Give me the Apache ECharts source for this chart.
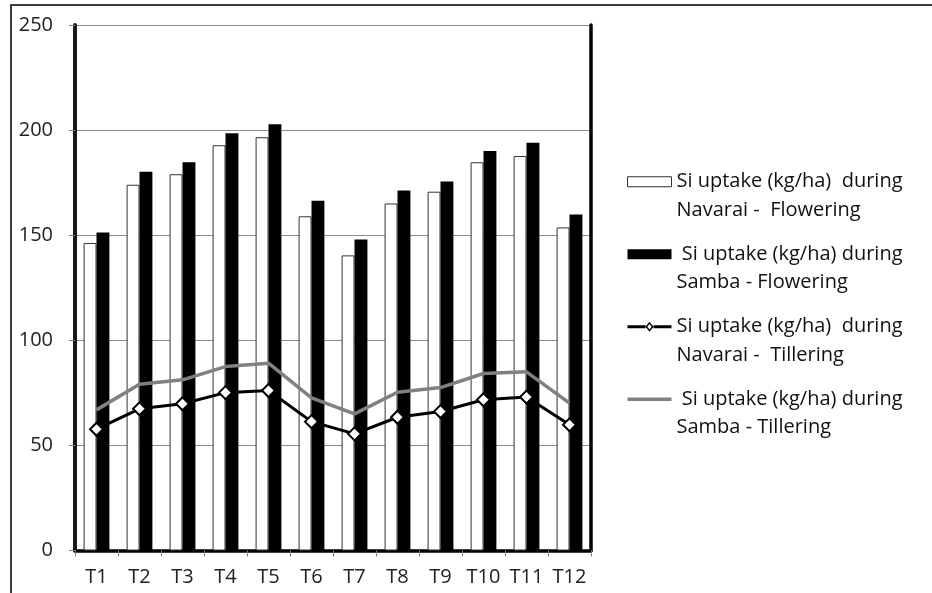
<!DOCTYPE html>
<html>
<head>
<meta charset="utf-8">
<script src="https://cdn.jsdelivr.net/npm/echarts@6/dist/echarts.min.js"></script>
<style>
html,body{margin:0;padding:0;background:#fff;}
#chart{width:932px;height:593px;}
</style>
</head>
<body>
<div id="chart"></div>
<script>
var categories = ['T1','T2','T3','T4','T5','T6','T7','T8','T9','T10','T11','T12'];
var navaraiFlowering = [146.3,174.0,179.0,192.8,196.6,159.0,140.4,165.1,170.7,184.7,187.7,153.7];
var sambaFlowering   = [151.3,180.2,184.7,198.5,202.8,166.4,148.0,171.3,175.6,190.1,194.0,159.8];
var navaraiTillering = [57.7,67.4,69.8,75.1,76.1,61.3,55.5,63.4,66.1,71.7,73.0,59.8];
var sambaTillering   = [66.9,79.1,81.2,87.5,89.1,72.6,65.0,75.3,77.5,84.2,85.0,70.1];
var seriesNames = [
  'Si uptake (kg/ha)  during\nNavarai -  Flowering',
  ' Si uptake (kg/ha) during\nSamba - Flowering',
  'Si uptake (kg/ha)  during\nNavarai -  Tillering',
  ' Si uptake (kg/ha) during\nSamba - Tillering'
];
var yTicks = {min:0, max:250, interval:50};

var FONT = '"Open Sans"';
var lineDiamondIcon = 'path://M0,3.5L18,3.5L18,6.5L0,6.5Z M26,3.5L44,3.5L44,6.5L26,6.5Z ' +
  'M22,0L26,5L22,10L18,5Z M22,2.3L19.9,5L22,7.7L24.1,5Z';
var lineOnlyIcon = 'path://M0,0L0.01,0L0.01,0.01Z M0,3.3L44,3.3L44,6.7L0,6.7Z M43.99,10L44,10L44,9.99Z';

var chart = echarts.init(document.getElementById('chart'), null, {renderer:'canvas'});
var option = {
  backgroundColor:'#fff',
  animation:false,
  textStyle:{fontFamily:FONT},
  graphic:[{
    type:'rect', silent:true, z:-10,
    shape:{x:11, y:5, width:1000, height:700},
    style:{fill:'none', stroke:'#000', lineWidth:1.5}
  }],
  grid:{left:75, right:341, top:25, bottom:42.5, containLabel:false},
  legend:{
    orient:'vertical', left:627, top:139, padding:0,
    itemWidth:44, itemHeight:10, itemGap:-13,
    formatter:function(name){ return ' \n' + name; },
    textStyle:{fontFamily:FONT, fontSize:20, color:'#111', lineHeight:28.5},
    data:[
      {name:seriesNames[0], icon:'rect', itemStyle:{color:'#fff', borderColor:'#333', borderWidth:1}},
      {name:seriesNames[1], icon:'rect', itemStyle:{color:'#000'}},
      {name:seriesNames[2], icon:lineDiamondIcon, itemStyle:{color:'#000', borderWidth:0}},
      {name:seriesNames[3], icon:lineOnlyIcon, itemStyle:{color:'#808080', borderWidth:0}}
    ]
  },
  xAxis:[{
    type:'category', data:categories, position:'bottom',
    axisLine:{show:true, lineStyle:{color:'#595959', width:2}},
    axisTick:{show:true, alignWithLabel:false, length:6, lineStyle:{color:'#7f7f7f', width:1}},
    axisLabel:{fontFamily:FONT, fontSize:20, color:'#222', margin:17, interval:0},
    splitLine:{show:false}
  },{
    type:'category', data:categories, position:'top',
    axisLine:{show:true, lineStyle:{color:'#000', width:3.5}},
    axisTick:{show:false}, axisLabel:{show:false}, splitLine:{show:false}
  }],
  yAxis:[{
    type:'value', min:yTicks.min, max:yTicks.max, interval:yTicks.interval, position:'left',
    axisLine:{show:true, lineStyle:{color:'#1a1a1a', width:4}},
    axisTick:{show:true, length:6, lineStyle:{color:'#7f7f7f', width:1}},
    axisLabel:{fontFamily:FONT, fontSize:20, color:'#222', margin:22},
    splitLine:{show:true, lineStyle:{color:'#8c8c8c', width:1}}
  },{
    type:'value', min:yTicks.min, max:yTicks.max, interval:yTicks.interval, position:'right',
    axisLine:{show:true, lineStyle:{color:'#000', width:3.5}},
    axisTick:{show:false}, axisLabel:{show:false}, splitLine:{show:false}
  }],
  series:[
    {name:seriesNames[0], type:'bar', data:navaraiFlowering, barGap:'0%', barCategoryGap:'40%',
     itemStyle:{color:'#fff', borderColor:'#333', borderWidth:1}},
    {name:seriesNames[1], type:'bar', data:sambaFlowering, barGap:'0%', barCategoryGap:'40%',
     itemStyle:{color:'#000'}},
    {name:seriesNames[2], type:'line', data:navaraiTillering, z:4,
     symbol:'diamond', symbolSize:13, showSymbol:true,
     lineStyle:{color:'#000', width:3},
     itemStyle:{color:'#fff', borderColor:'#000', borderWidth:2}},
    {name:seriesNames[3], type:'line', data:sambaTillering, z:3,
     symbol:'none', lineStyle:{color:'#808080', width:3.5}, itemStyle:{color:'#808080'}}
  ]
};
chart.setOption(option);
</script>
</body>
</html>
